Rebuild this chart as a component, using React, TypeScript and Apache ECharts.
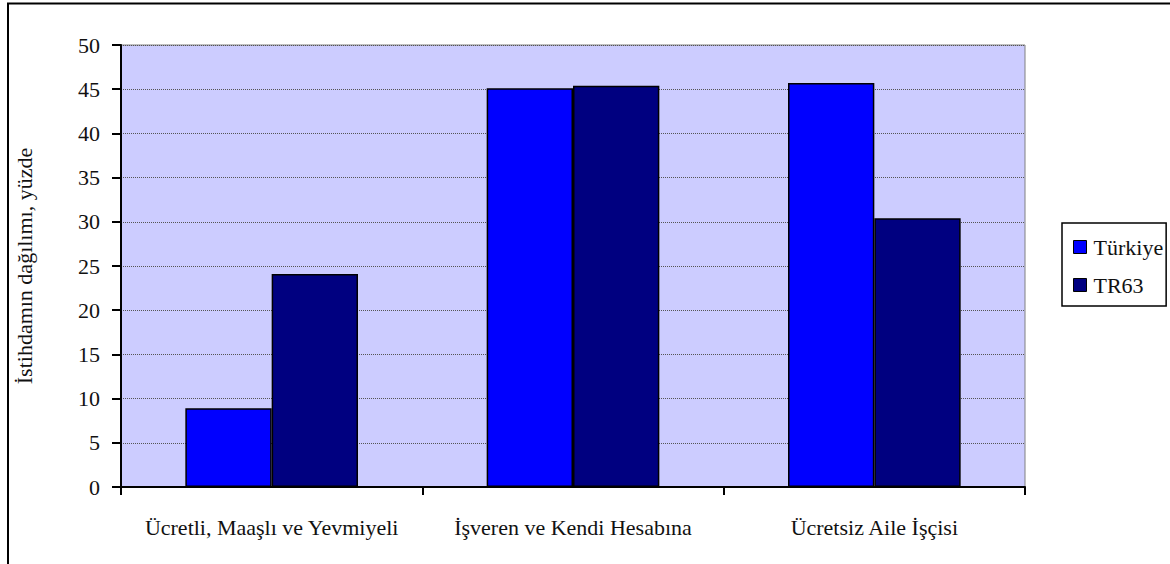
import React, { useEffect, useRef } from "react";
import * as echarts from "echarts";

const categories = ["Ücretli, Maaşlı ve Yevmiyeli", "İşveren ve Kendi Hesabına", "Ücretsiz Aile İşçisi"];
const turkiye = [8.9, 45.1, 45.7];
const tr63 = [24.1, 45.4, 30.4];
const seriesNames = ["Türkiye", "TR63"];
const yAxisTitle = "İstihdamın dağılımı, yüzde";

const FONT = "Liberation Serif";
const FS = 22;

export default function App() {
  const ref = useRef<HTMLDivElement>(null);
  useEffect(() => {
    if (!ref.current) return;
    const chart = echarts.init(ref.current, undefined, { renderer: "svg" });
    chart.setOption({
      animation: false,
      backgroundColor: "#ffffff",
      textStyle: { fontFamily: FONT, color: "#000" },
      grid: {
        left: 121,
        top: 45,
        width: 904,
        height: 442,
        show: true,
        backgroundColor: "#CCCCFF",
        borderColor: "#808080",
        borderWidth: 1,
      },
      legend: {
        orient: "vertical",
        left: 1062,
        top: 223,
        padding: [13, 3, 10, 11],
        itemGap: 16,
        itemWidth: 13,
        itemHeight: 13,
        icon: "rect",
        borderColor: "#000",
        borderWidth: 1.5,
        textStyle: { fontFamily: FONT, fontSize: FS, color: "#111", padding: [0, 0, 0, 2] },
        itemStyle: { borderColor: "#000", borderWidth: 1 },
        data: seriesNames,
      },
      xAxis: {
        type: "category",
        data: categories,
        axisLine: { lineStyle: { color: "#000", width: 2 } },
        axisTick: { show: true, length: 8, lineStyle: { color: "#000", width: 2 } },
        axisLabel: { fontFamily: FONT, fontSize: FS, color: "#111", margin: 29, interval: 0 },
        splitLine: { show: false },
      },
      yAxis: {
        type: "value",
        min: 0,
        max: 50,
        interval: 5,
        axisLine: { show: true, lineStyle: { color: "#000", width: 2 } },
        axisTick: { show: true, length: 9, lineStyle: { color: "#000", width: 2 } },
        axisLabel: { fontFamily: FONT, fontSize: FS, color: "#111", margin: 21 },
        splitLine: { show: true, lineStyle: { color: "#555", type: "dotted", width: 1 } },
      },
      series: [
        {
          name: seriesNames[0],
          type: "bar",
          data: turkiye,
          barGap: "0%",
          barCategoryGap: "42.7%",
          itemStyle: { color: "#0000FF", borderColor: "#000", borderWidth: 1.5 },
        },
        {
          name: seriesNames[1],
          type: "bar",
          data: tr63,
          barGap: "0%",
          barCategoryGap: "42.7%",
          itemStyle: { color: "#000080", borderColor: "#000", borderWidth: 1.5 },
        },
      ],
      graphic: [
        {
          type: "rect",
          shape: { x: 8, y: 3.5, width: 1200, height: 620 },
          style: { fill: "none", stroke: "#000", lineWidth: 2 },
          silent: true,
        },
        {
          type: "text",
          x: 24,
          y: 266,
          rotation: Math.PI / 2,
          style: {
            text: yAxisTitle,
            fontFamily: FONT,
            fontSize: FS,
            fill: "#111",
            align: "center",
            verticalAlign: "middle",
          },
        },
      ],
    });
    return () => chart.dispose();
  }, []);
  return (
    <div
      ref={ref}
      style={{ position: "fixed", left: 0, top: 0, width: 1170, height: 564 }}
    />
  );
}
